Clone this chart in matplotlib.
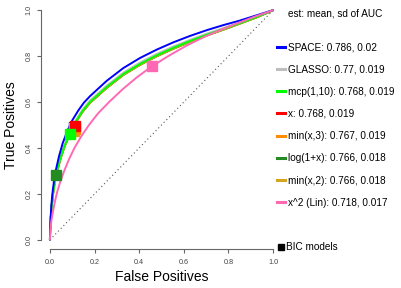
import matplotlib
matplotlib.use("Agg")
import matplotlib.pyplot as plt
from matplotlib.lines import Line2D

plt.rcParams['font.family'] = ['Liberation Sans', 'DejaVu Sans']

# ---- data ----
labels = ["SPACE: 0.786, 0.02", "GLASSO: 0.77, 0.019", "mcp(1,10): 0.768, 0.019",
          "x: 0.768, 0.019", "min(x,3): 0.767, 0.019", "log(1+x): 0.766, 0.018",
          "min(x,2): 0.766, 0.018", "x^2 (Lin): 0.718, 0.017"]
colors = ["#0000FF", "#BEBEBE", "#00FF00", "#FF0000", "#FF8C00", "#228B22",
          "#D4A520", "#FF69B4"]

space_fpr = [0, 0.001, 0.003, 0.006, 0.011, 0.018, 0.028, 0.041, 0.057, 0.077, 0.1,
             0.127, 0.152, 0.179, 0.254, 0.329, 0.404, 0.478, 0.553, 0.628, 0.703,
             0.777, 0.852, 0.927, 1]
space_tpr = [0, 0.045, 0.09, 0.145, 0.2, 0.255, 0.31, 0.365, 0.42, 0.472, 0.52,
             0.563, 0.597, 0.625, 0.692, 0.748, 0.792, 0.828, 0.86, 0.888, 0.913,
             0.935, 0.955, 0.978, 1]

mid_fpr = [0, 0.001, 0.003, 0.007, 0.013, 0.021, 0.032, 0.047, 0.066, 0.09, 0.116,
           0.145, 0.179, 0.254, 0.329, 0.404, 0.478, 0.553, 0.628, 0.703, 0.777,
           0.852, 0.927, 1]

glasso_fpr = mid_fpr
glasso_tpr = [0, 0.042, 0.087, 0.142, 0.197, 0.252, 0.303, 0.358, 0.413, 0.467, 0.52,
              0.565, 0.606, 0.671, 0.728, 0.772, 0.809, 0.842, 0.871, 0.898, 0.922,
              0.947, 0.974, 1]

mcp_fpr = mid_fpr
mcp_tpr = [0, 0.04, 0.085, 0.14, 0.195, 0.25, 0.3, 0.355, 0.41, 0.465, 0.515,
           0.56, 0.6, 0.665, 0.722, 0.766, 0.803, 0.836, 0.866, 0.893, 0.918,
           0.944, 0.971, 1]

x_fpr = mid_fpr
x_tpr = [0, 0.04, 0.085, 0.14, 0.195, 0.25, 0.3, 0.355, 0.41, 0.464, 0.514,
         0.558, 0.598, 0.663, 0.72, 0.764, 0.801, 0.834, 0.864, 0.891, 0.917,
         0.943, 0.97, 1]

min3_fpr = mid_fpr
min3_tpr = [0, 0.04, 0.085, 0.139, 0.194, 0.249, 0.299, 0.354, 0.409, 0.463, 0.513,
            0.557, 0.597, 0.662, 0.719, 0.763, 0.8, 0.833, 0.863, 0.891, 0.916,
            0.942, 0.97, 1]

log_fpr = mid_fpr
log_tpr = [0, 0.04, 0.084, 0.138, 0.193, 0.248, 0.298, 0.353, 0.408, 0.462, 0.512,
           0.556, 0.596, 0.661, 0.718, 0.762, 0.799, 0.832, 0.862, 0.89, 0.915,
           0.942, 0.969, 1]

min2_fpr = mid_fpr
min2_tpr = [0, 0.04, 0.084, 0.138, 0.193, 0.248, 0.298, 0.353, 0.408, 0.462, 0.512,
            0.556, 0.596, 0.661, 0.718, 0.762, 0.799, 0.832, 0.862, 0.89, 0.915,
            0.942, 0.969, 1]

lin_fpr = [0, 0.002, 0.006, 0.013, 0.022, 0.033, 0.047, 0.064, 0.085, 0.11, 0.14,
           0.175, 0.215, 0.265, 0.325, 0.39, 0.456, 0.53, 0.613, 0.69, 0.762,
           0.84, 0.912, 1]
lin_tpr = [0, 0.04, 0.08, 0.12, 0.165, 0.21, 0.255, 0.3, 0.35, 0.4, 0.45,
           0.5, 0.55, 0.6, 0.655, 0.708, 0.755, 0.8, 0.846, 0.883, 0.913,
           0.943, 0.97, 1]

# BIC model points (FPR, TPR), in drawing order
bic_fpr = [0.11, 0.108, 0.106, 0.112, 0.027, 0.111, 0.091, 0.456]
bic_tpr = [0.49, 0.488, 0.474, 0.483, 0.283, 0.496, 0.461, 0.757]
bic_colors = ["#0000FF", "#BEBEBE", "#D4A520", "#FF8C00", "#228B22", "#FF0000",
              "#00FF00", "#FF69B4"]

curves = [(space_fpr, space_tpr), (glasso_fpr, glasso_tpr), (mcp_fpr, mcp_tpr),
          (x_fpr, x_tpr), (min3_fpr, min3_tpr), (log_fpr, log_tpr),
          (min2_fpr, min2_tpr), (lin_fpr, lin_tpr)]
draw_order = [3, 4, 5, 6, 1, 2, 0, 7]

# ---- figure ----
fig = plt.figure(figsize=(4.02, 2.88), dpi=100)
ax = fig.add_axes([41/402, 1 - 249/288, 241/402, 248/288])
ax.set_xlim(-0.04, 1.04)
ax.set_ylim(-0.04, 1.04)

ax.plot([0, 1], [0, 1], linestyle=(0, (1, 2.5)), color="#555555", lw=0.8)

for i in draw_order:
    f, t = curves[i]
    ax.plot(f, t, color=colors[i], lw=1.4, solid_joinstyle='round',
            solid_capstyle='round')

for f, t, c in zip(bic_fpr, bic_tpr, bic_colors):
    ax.plot([f], [t], marker='s', ms=7.2, color=c, mec=c, linestyle='none')

for s in ["top", "right"]:
    ax.spines[s].set_visible(False)
for s in ["left", "bottom"]:
    ax.spines[s].set_color("#666666")
    ax.spines[s].set_linewidth(0.8)
ax.spines["left"].set_bounds(0, 1)
ax.spines["bottom"].set_bounds(0, 1)

ticks = [0.0, 0.2, 0.4, 0.6, 0.8, 1.0]
ticklabels = ["0.0", "0.2", "0.4", "0.6", "0.8", "1.0"]
ax.set_xticks(ticks, ticklabels)
ax.set_yticks(ticks, ticklabels)
ax.tick_params(axis='both', length=3, width=0.8, color="#666666",
               labelsize=5.2, labelcolor="#444444")
ax.tick_params(axis='x', pad=4)
ax.tick_params(axis='y', pad=3)
for lab in ax.get_yticklabels():
    lab.set_rotation(90)
    lab.set_va('center')
    lab.set_ha('right')

ax.set_xlabel("False Positives", fontsize=10)
ax.set_ylabel("True Positives", fontsize=10)
ax.xaxis.set_label_coords(0.5, (249 - 277) / 248)
ax.xaxis.label.set_va('center')
ax.yaxis.set_label_coords((11 - 41) / 241, 0.5)
ax.yaxis.label.set_va('center')

leg_handles = [Line2D([0], [0], color=c, lw=2.2) for c in colors]
fig.legend(leg_handles, labels, title="est: mean, sd of AUC\n",
           loc='upper left', bbox_to_anchor=(277/402, 1 - 8.5/288),
           frameon=False, fontsize=7.2, title_fontsize=7.2,
           handlelength=0.8, handletextpad=0.25, labelspacing=1.22,
           borderpad=0, borderaxespad=0)

bic_handle = Line2D([0], [0], marker='s', color='black', linestyle='none', ms=4)
fig.legend([bic_handle], ["BIC models"], loc='center left',
           bbox_to_anchor=(277/402, 1 - 247/288), frameon=False, fontsize=7.2,
           handlelength=0.8, handletextpad=0.1, borderpad=0, borderaxespad=0)

fig.savefig("out.png", dpi=100)
